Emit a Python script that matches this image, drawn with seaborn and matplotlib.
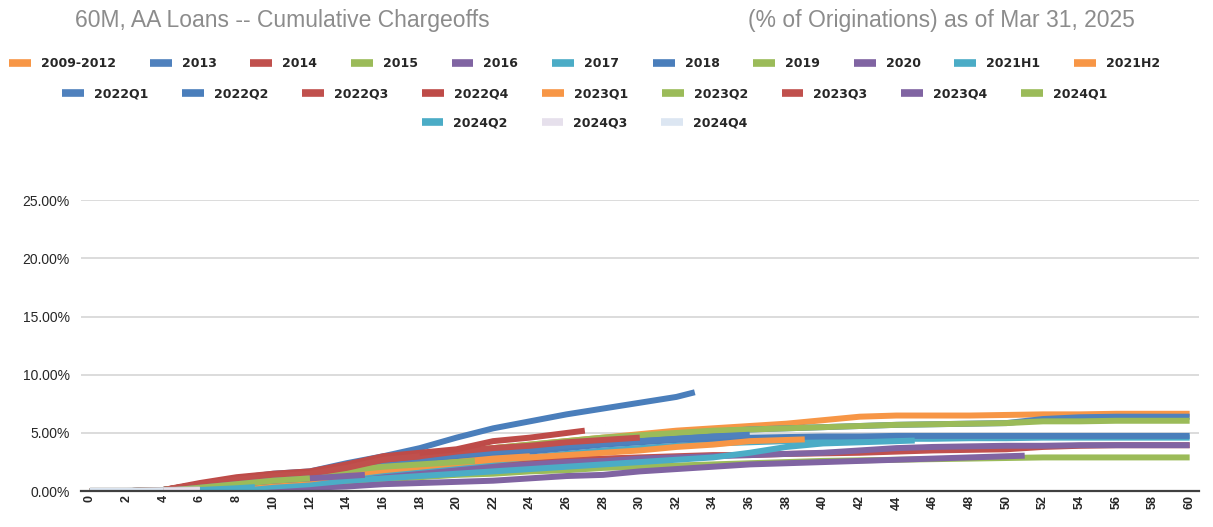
import matplotlib
matplotlib.use("Agg")
import matplotlib.pyplot as plt
import matplotlib.patheffects as pe
from matplotlib.lines import Line2D
from matplotlib.ticker import PercentFormatter
import seaborn as sns
import pandas as pd

# vintages, their colours and the last month on book shown (as of Mar 31, 2025)
vintages = ["2009-2012", "2013", "2014", "2015", "2016", "2017", "2018", "2019", "2020",
            "2021H1", "2021H2", "2022Q1", "2022Q2", "2022Q3", "2022Q4", "2023Q1",
            "2023Q2", "2023Q3", "2023Q4", "2024Q1", "2024Q2", "2024Q3", "2024Q4"]
colors = ["#F79646", "#4F81BD", "#C0504D", "#9BBB59", "#8064A2", "#4BACC6", "#4A7EBB",
          "#9BBB59", "#8064A2", "#4BACC6", "#F79646", "#4F81BD", "#4A7EBB", "#C0504D",
          "#BE4B48", "#F79646", "#9BBB59", "#C0504D", "#8064A2", "#9BBB59", "#4BACC6",
          "#E6E0EC", "#DCE6F2"]
last_month = [60, 60, 60, 60, 60, 60, 60, 60, 51, 45, 39, 36, 33, 30, 27, 24, 21, 18, 15, 12, 9, 6, 4]

# cumulative chargeoffs (%), read every 2 months plus the last month
v_2009_2012 = [0, 0, 0.1, 0.6, 1.0, 1.3, 1.5, 2.0, 2.5, 2.9, 3.3, 3.7, 4.0, 4.3, 4.6, 4.9,
               5.2, 5.4, 5.6, 5.8, 6.1, 6.4, 6.5, 6.5, 6.5, 6.55, 6.6, 6.6, 6.65, 6.65, 6.65]
v_2013 = [0, 0, 0.1, 0.5, 0.9, 1.2, 1.5, 2.0, 2.5, 2.9, 3.3, 3.6, 3.9, 4.2, 4.5, 4.7,
          4.9, 5.1, 5.3, 5.4, 5.5, 5.6, 5.7, 5.75, 5.8, 5.85, 6.2, 6.35, 6.4, 6.4, 6.4]
v_2014 = [0, 0, 0.1, 0.4, 0.7, 0.9, 1.1, 1.4, 1.7, 2.0, 2.2, 2.4, 2.6, 2.7, 2.8, 2.9,
          3.0, 3.1, 3.1, 3.2, 3.25, 3.3, 3.4, 3.5, 3.55, 3.6, 3.8, 3.9, 3.95, 3.95, 3.95]
v_2015 = [0, 0, 0.1, 0.5, 0.9, 1.2, 1.5, 2.0, 2.6, 3.0, 3.4, 3.7, 4.0, 4.3, 4.6, 4.8,
          5.0, 5.2, 5.3, 5.4, 5.5, 5.6, 5.7, 5.75, 5.8, 5.85, 6.0, 6.0, 6.05, 6.05, 6.05]
v_2016 = [0, 0, 0, 0.2, 0.4, 0.6, 0.8, 1.1, 1.4, 1.7, 1.9, 2.1, 2.3, 2.5, 2.6, 2.8,
          2.9, 3.0, 3.1, 3.2, 3.3, 3.5, 3.7, 3.8, 3.85, 3.9, 3.9, 3.95, 3.95, 3.95, 3.95]
v_2017 = [0, 0, 0, 0.3, 0.5, 0.8, 1.0, 1.3, 1.7, 2.0, 2.3, 2.6, 2.9, 3.2, 3.5, 3.7,
          3.9, 4.1, 4.2, 4.3, 4.4, 4.45, 4.5, 4.5, 4.55, 4.55, 4.6, 4.6, 4.6, 4.6, 4.6]
v_2018 = [0, 0, 0.1, 0.4, 0.7, 1.0, 1.2, 1.6, 2.0, 2.4, 2.8, 3.1, 3.4, 3.7, 4.0, 4.2,
          4.4, 4.5, 4.6, 4.65, 4.7, 4.7, 4.75, 4.75, 4.75, 4.75, 4.75, 4.75, 4.75, 4.75, 4.75]
v_2019 = [0, 0, 0, 0.1, 0.2, 0.4, 0.6, 0.8, 1.0, 1.2, 1.4, 1.5, 1.7, 1.8, 2.0, 2.1,
          2.2, 2.3, 2.4, 2.5, 2.6, 2.65, 2.7, 2.75, 2.8, 2.85, 2.9, 2.9, 2.9, 2.9, 2.9]
v_2020 = [0, 0, 0, 0, 0.1, 0.2, 0.3, 0.4, 0.6, 0.7, 0.8, 0.9, 1.1, 1.3, 1.4, 1.7,
          1.9, 2.1, 2.3, 2.4, 2.5, 2.6, 2.7, 2.8, 2.9, 3.0, 3.05]
v_2021h1 = [0, 0, 0, 0.1, 0.2, 0.4, 0.6, 0.9, 1.1, 1.3, 1.5, 1.7, 1.9, 2.1, 2.3, 2.5,
            2.7, 2.9, 3.3, 3.8, 4.1, 4.2, 4.3, 4.35]
v_2021h2 = [0, 0, 0, 0.2, 0.5, 0.8, 1.0, 1.4, 1.8, 2.1, 2.4, 2.7, 2.9, 3.1, 3.3, 3.5,
            3.8, 4.0, 4.3, 4.4, 4.45]
v_2022q1 = [0, 0, 0.1, 0.5, 0.9, 1.2, 1.4, 1.9, 2.4, 2.8, 3.1, 3.4, 3.6, 3.9, 4.1, 4.3,
            4.5, 4.7, 4.85]
v_2022q2 = [0, 0, 0.1, 0.6, 1.1, 1.5, 1.7, 2.4, 3.0, 3.7, 4.6, 5.4, 6.0, 6.6, 7.1, 7.6,
            8.1, 8.5]
v_2022q3 = [0, 0, 0.1, 0.6, 1.0, 1.4, 1.6, 2.1, 2.7, 3.0, 3.4, 3.7, 3.9, 4.2, 4.4, 4.6]
v_2022q4 = [0, 0, 0.1, 0.7, 1.2, 1.5, 1.7, 2.3, 3.0, 3.3, 3.6, 4.3, 4.6, 5.0, 5.2]
v_2023q1 = [0, 0, 0, 0.4, 0.7, 1.0, 1.2, 1.6, 1.9, 2.2, 2.5, 2.8, 3.0]
v_2023q2 = [0, 0, 0.1, 0.5, 0.9, 1.2, 1.4, 1.8, 2.1, 2.3, 2.5, 2.6]
v_2023q3 = [0, 0, 0.1, 0.6, 1.0, 1.3, 1.5, 2.0, 2.7, 3.0]
v_2023q4 = [0, 0, 0, 0.3, 0.6, 0.9, 1.1, 1.3, 1.4]
v_2024q1 = [0, 0, 0, 0.3, 0.6, 0.9, 1.1]
v_2024q2 = [0, 0, 0, 0.1, 0.25, 0.35]
v_2024q3 = [0, 0, 0.05, 0.1]
v_2024q4 = [0, 0, 0]

series = [v_2009_2012, v_2013, v_2014, v_2015, v_2016, v_2017, v_2018, v_2019, v_2020,
          v_2021h1, v_2021h2, v_2022q1, v_2022q2, v_2022q3, v_2022q4, v_2023q1,
          v_2023q2, v_2023q3, v_2023q4, v_2024q1, v_2024q2, v_2024q3, v_2024q4]

rows = []
for name, end, vals in zip(vintages, last_month, series):
    months = list(range(0, end, 2)) + [end] if end % 2 else list(range(0, end + 1, 2))
    for m, v in zip(months, vals):
        rows.append({"vintage": name, "month": m, "pct": v})
df = pd.DataFrame(rows)

sns.set_theme(style="white")
plt.rcParams["font.family"] = ["Liberation Sans", "DejaVu Sans"]

fig = plt.figure(figsize=(12.13, 5.27), dpi=100)
ax = fig.add_axes([0.0666, 0.068, 0.9217, 0.552])

sns.lineplot(data=df, x="month", y="pct", hue="vintage", hue_order=vintages,
             palette=dict(zip(vintages, colors)), lw=4.3, legend=False,
             estimator=None, sort=False, ax=ax)
for ln in ax.get_lines():
    ln.set_solid_capstyle("butt")
    ln.set_solid_joinstyle("round")
for ln in ax.get_lines()[-2:]:
    ln.set_path_effects([pe.Stroke(linewidth=5.2, foreground="#BFBFBF"), pe.Normal()])

ax.set_xlim(-0.5, 60.5)
ax.set_ylim(0, 25)
ax.set_xticks(range(0, 61, 2))
ax.set_yticks(range(0, 26, 5))
ax.yaxis.set_major_formatter(PercentFormatter(decimals=2))
ax.tick_params(axis="x", labelrotation=90, labelsize=9, length=0, pad=3)
ax.tick_params(axis="y", labelsize=10, length=0, pad=8)
for lab in ax.get_xticklabels():
    lab.set_fontweight("bold")
ax.set_xlabel("")
ax.set_ylabel("")
ax.set_axisbelow(True)
ax.yaxis.grid(True, color="#D9D9D9", lw=1.3)
ax.xaxis.grid(False)
for s in ["left", "right", "top"]:
    ax.spines[s].set_visible(False)
ax.spines["bottom"].set_color("#404040")
ax.spines["bottom"].set_linewidth(1.6)

fig.text(0.062, 0.962, "60M, AA Loans -- Cumulative Chargeoffs", fontsize=16.5,
         color="#8C8C8C", ha="left", va="center")
fig.text(0.617, 0.962, "(% of Originations) as of Mar 31, 2025", fontsize=16.5,
         color="#8C8C8C", ha="left", va="center")

handles = [Line2D([], [], color=c, lw=5.5, solid_capstyle="butt") for c in colors]
legend_rows = [(0, 11, 0.879), (11, 20, 0.822), (20, 23, 0.767)]
for start, stop, y in legend_rows:
    fig.legend(handles[start:stop], vintages[start:stop], loc="center",
               bbox_to_anchor=(0.482, y), ncol=stop - start, frameon=False,
               handlelength=1.75, handletextpad=0.8, columnspacing=2.7,
               prop={"family": "DejaVu Sans", "size": 9, "weight": "bold"})

fig.savefig("out.png", dpi=100)
